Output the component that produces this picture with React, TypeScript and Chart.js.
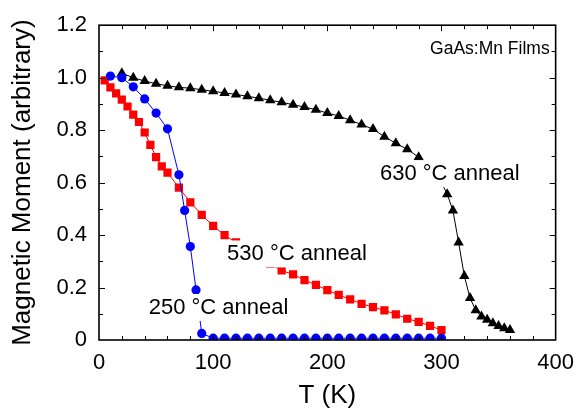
import React, { useEffect, useRef } from 'react';
import { Chart, registerables } from 'chart.js';

Chart.register(...registerables);

// ---- data ----
const blueT = [10, 20, 30, 40, 50, 60, 70, 75, 80, 85, 90, 100, 110, 120, 130, 140, 150, 160, 170, 180, 190, 200, 210, 220, 230, 240, 250, 260, 270, 280, 290, 300];
const blueM = [1.006, 1.0, 0.965, 0.919, 0.865, 0.805, 0.63, 0.494, 0.356, 0.191, 0.025, 0.007, 0.007, 0.007, 0.007, 0.007, 0.007, 0.007, 0.007, 0.007, 0.007, 0.007, 0.007, 0.007, 0.007, 0.007, 0.007, 0.007, 0.007, 0.007, 0.007, 0.007];

const redT = [5, 10, 15, 20, 25, 30, 35, 40, 45, 50, 55, 60, 70, 80, 90, 100, 110, 120, 130, 140, 150, 160, 170, 180, 190, 200, 210, 220, 230, 240, 250, 260, 270, 280, 290, 300];
const redM = [0.99, 0.963, 0.94, 0.916, 0.89, 0.859, 0.831, 0.791, 0.744, 0.697, 0.662, 0.638, 0.581, 0.525, 0.477, 0.435, 0.4, 0.372, 0.345, 0.318, 0.29, 0.265, 0.25, 0.228, 0.21, 0.19, 0.172, 0.155, 0.138, 0.125, 0.113, 0.098, 0.081, 0.069, 0.054, 0.038];

const blackT = [20, 30, 40, 50, 60, 70, 80, 90, 100, 110, 120, 130, 140, 150, 160, 170, 180, 190, 200, 210, 220, 230, 240, 250, 260, 270, 280, 290, 300, 305, 310, 315, 320, 325, 330, 335, 340, 345, 350, 355, 360];
const blackM = [1.017, 1.0, 0.987, 0.977, 0.969, 0.963, 0.96, 0.954, 0.948, 0.942, 0.936, 0.929, 0.922, 0.914, 0.906, 0.897, 0.888, 0.878, 0.865, 0.854, 0.838, 0.821, 0.804, 0.775, 0.75, 0.727, 0.697, 0.655, 0.6, 0.556, 0.494, 0.372, 0.244, 0.16, 0.113, 0.09, 0.077, 0.064, 0.053, 0.045, 0.038];

const xTicks = [0, 100, 200, 300, 400];
const yTicks = [0, 0.2, 0.4, 0.6, 0.8, 1.0, 1.2];

const labelTexts = ['GaAs:Mn Films', '630 \u00B0C anneal', '530 \u00B0C anneal', '250 \u00B0C anneal'];
const labelX = [290.0, 246.1, 112.2, 43.5];
const labelY = [1.11, 0.634, 0.328, 0.124];
const labelSize = [17.5, 22, 22, 22];
const labelBox = [false, true, true, true];

const FONT = "'Liberation Sans', Arial, Helvetica, sans-serif";

function pts(xs: number[], ys: number[]) {
  return xs.map((x, i) => ({ x, y: ys[i] }));
}

const framePlugin = {
  id: 'frameTicks',
  afterDatasetsDraw(chart: any) {
    const { ctx, chartArea, scales } = chart;
    const { left, right, top, bottom } = chartArea;
    const xs = scales.x;
    const ys = scales.y;
    ctx.save();

    // annotations with white background
    for (let i = 0; i < labelTexts.length; i++) {
      ctx.font = `${labelSize[i]}px ${FONT}`;
      ctx.textBaseline = 'middle';
      ctx.textAlign = 'left';
      const px = xs.getPixelForValue(labelX[i]);
      const py = ys.getPixelForValue(labelY[i]);
      const w = ctx.measureText(labelTexts[i]).width;
      if (labelBox[i]) {
        ctx.fillStyle = '#fff';
        ctx.fillRect(px - 2, py - 13.5, w + 4, 27);
      }
      ctx.fillStyle = '#000';
      ctx.fillText(labelTexts[i], px, py);
    }

    ctx.strokeStyle = '#000';
    ctx.lineWidth = 1;
    ctx.beginPath();
    for (let v = 20; v < 400; v += 20) {
      const px = Math.round(xs.getPixelForValue(v)) + 0.5;
      const len = v % 100 === 0 ? 6 : 4;
      ctx.moveTo(px, bottom); ctx.lineTo(px, bottom - len);
      ctx.moveTo(px, top); ctx.lineTo(px, top + len);
    }
    for (let k = 1; k < 12; k++) {
      const v = k / 10;
      const py = Math.round(ys.getPixelForValue(v)) + 0.5;
      const len = k % 2 === 0 ? 6 : 4;
      ctx.moveTo(left, py); ctx.lineTo(left + len, py);
      ctx.moveTo(right, py); ctx.lineTo(right - len, py);
    }
    ctx.stroke();
    ctx.lineWidth = 1.6;
    ctx.strokeRect(left, top, right - left, bottom - top);
    ctx.restore();
  },
};

export default function App() {
  const ref = useRef<HTMLCanvasElement | null>(null);
  useEffect(() => {
    document.body.style.margin = '0';
    const canvas = ref.current;
    if (!canvas) return;
    const chart = new Chart(canvas, {
      type: 'scatter',
      data: {
        datasets: [
          {
            label: '250 °C anneal',
            data: pts(blueT, blueM),
            showLine: true,
            borderColor: '#0000ff',
            backgroundColor: '#0000ff',
            borderWidth: 1,
            pointStyle: 'circle',
            pointRadius: 4.6,
            pointBorderWidth: 0,
            tension: 0,
          },
          {
            label: '530 °C anneal',
            data: pts(redT, redM),
            showLine: true,
            borderColor: '#ff0000',
            backgroundColor: '#ff0000',
            borderWidth: 1,
            pointStyle: 'rect',
            pointRadius: 5.8,
            pointBorderWidth: 0,
            tension: 0,
          },
          {
            label: '630 °C anneal',
            data: pts(blackT, blackM),
            showLine: true,
            borderColor: '#000000',
            backgroundColor: '#000000',
            borderWidth: 1,
            pointStyle: 'triangle',
            pointRadius: 6,
            pointBorderWidth: 0,
            tension: 0,
          },
        ],
      },
      options: {
        animation: false,
        responsive: true,
        maintainAspectRatio: false,
        layout: { padding: { left: 0, top: 20, right: 25, bottom: 0 } },
        plugins: {
          legend: { display: false },
          tooltip: { enabled: false },
        },
        scales: {
          x: {
            type: 'linear',
            min: 0,
            max: 400,
            afterBuildTicks: (s: any) => { s.ticks = xTicks.map((v) => ({ value: v })); },
            afterFit: (s: any) => { s.height = 73; },
            grid: { display: false, drawTicks: false },
            border: { display: false },
            ticks: {
              color: '#000',
              font: { size: 22, family: FONT },
              padding: 10,
              maxRotation: 0,
              callback: (v: any) => String(v),
            },
            title: {
              display: true,
              text: 'T (K)',
              color: '#000',
              font: { size: 26, family: FONT, lineHeight: 1 },
              padding: { top: 0, bottom: 4 },
            },
          },
          y: {
            type: 'linear',
            min: 0,
            max: 1.2,
            afterBuildTicks: (s: any) => { s.ticks = yTicks.map((v) => ({ value: v })); },
            afterFit: (s: any) => { s.width = 99; },
            grid: { display: false, drawTicks: false },
            border: { display: false },
            ticks: {
              color: '#000',
              font: { size: 22, family: FONT },
              padding: 12,
              callback: (v: any) => (Number(v) === 0 ? '0' : Number(v).toFixed(1)),
            },
            title: {
              display: true,
              text: 'Magnetic Moment (arbitrary)',
              color: '#000',
              font: { size: 26, family: FONT, lineHeight: 1 },
              padding: { top: 10, bottom: 0 },
            },
          },
        },
      },
      plugins: [framePlugin],
    });
    return () => chart.destroy();
  }, []);

  return (
    <div style={{ position: 'absolute', left: 0, top: 0, width: 584, height: 413 }}>
      <canvas ref={ref} />
    </div>
  );
}
